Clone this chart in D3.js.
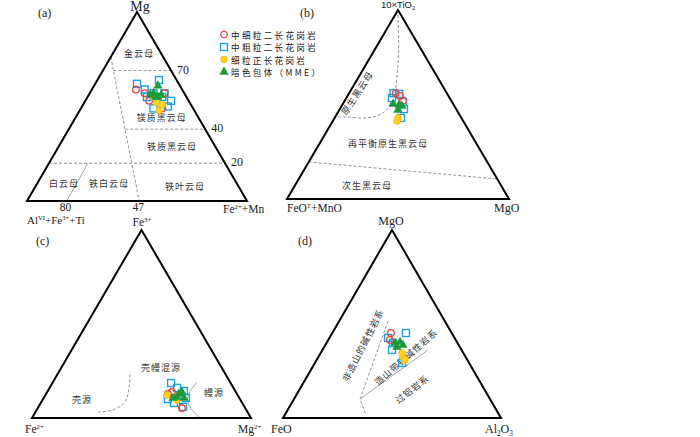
<!DOCTYPE html>
<html lang="en">
<head>
<meta charset="utf-8">
<script src="https://d3js.org/d3.v7.min.js"></script>
<style>
  body { margin: 0; background: #fff; }
  .cn { font-family: "Noto Sans CJK SC", sans-serif; fill: #333; font-size: 9px; letter-spacing: 1px; }
  .lat { font-family: "Liberation Serif", serif; fill: #222; }
</style>
</head>
<body>
<svg width="700" height="437"></svg>
<script>
// ternary data: [top %, right %] (left = 100 - top - right)
// (a) Mg / Fe2++Mn / AlVI+Fe3++Ti
var aSquare = [[62,19],[64,28],[59,24],[55,27],[57,29],[57,34],[53,39],[50,39],[49,33],[55,34]];
var aCircle = [[59,20],[57,25],[57,34],[49,37],[53,29]];
var aYellow = [[48,36],[52,33],[55,30],[51,36]];
var aMME    = [[61,29],[55,31],[56,28],[56,33],[57,29],[55,32]];
// (b) 10xTiO2 / MgO / FeOT+MnO
var bSquare = [[56,20],[55.6,22.7],[53.4,20.6],[51.3,26.6],[47.6,28.9],[42.9,29.9]];
var bCircle = [[56,21],[52,26.3],[54.5,23.6]];
var bYellow = [[42.9,28.6],[41.3,28.9]];
var bMME    = [[50.3,22.6],[49.7,25.6],[49.2,27.2],[47.1,26.4]];
// (c) Fe3+ / Mg2+ / Fe2+
var cSquare = [[18.6,54.2],[16,58.2],[14.4,62.2],[10.1,57],[8,60.8],[5.9,66],[10.6,65]];
var cCircle = [[5.3,65.8],[12.8,55.7],[13.8,57]];
var cYellow = [[12.2,55.5],[9.6,61.4]];
var cMME    = [[10.6,59.1],[12.8,60.7],[10.6,64.1],[11.2,60.6],[13.8,61.6]];
// (d) MgO / Al2O3 / FeO
var dSquare = [[45.2,33.8],[42.6,26.9],[39.9,30.5],[36.2,31.9],[29.3,40]];
var dCircle = [[45.2,26.9],[41.5,28.3]];
var dYellow = [[32.4,38.8],[30.9,40.5],[34.6,37.3]];
var dMME    = [[39.9,31.4],[40.4,33.5],[38.8,35.6],[37.8,33.4]];

// boundaries
var aLines = [
  {pts: [[76.2,0],[0,51]]},
  {pts: [[69,4.8],[69,31]]},
  {pts: [[38,25.6],[38,62]]},
  {pts: [[20,0],[20,80]]},
  {pts: [[0,18],[20,17.7]], solid: true}
];
var bLines = [
  {pts: [[100,0],[97.4,1.3],[78.8,10.9],[64.6,17.2],[52.4,21.6],[45.5,20.5],[42.9,14.6],[43.4,5.3],[43.4,0]], curve: true},
  {pts: [[19.6,0],[10.6,89.4]]}
];
var cLines = [
  {pts: [[3.2,28.5],[4.3,34.8],[8.5,38.2],[16,36.3],[24.5,32.5]], curve: true},
  {pts: [[19.1,65.8],[11.7,65.4],[5.85,69.2],[0,76.7]], curve: true, solid: true}
];
var dLines = [
  {pts: [[51.6,22.4],[10.1,30.3],[1.6,37.3]]},
  {pts: [[10.1,30.3],[36.2,48.4]], solid: true}
];

var legendNames = ["中细粒二长花岗岩", "中粗粒二长花岗岩", "细粒正长花岗岩", "暗色包体（MME）"];

var RED = "#e8453c", BLUE = "#1ba1e2", YEL = "#ffd21f", GRN = "#1c9a3c";

var svg = d3.select("svg");

function panel(o) {
  var g = svg.append("g");
  var w = o.R - o.L;
  var ty = d3.scaleLinear().domain([0, 100]).range([o.base, o.top]);
  var rx = d3.scaleLinear().domain([0, 100]).range([0, w]);
  function px(p) { return [o.L + rx(p[1]) + rx(p[0]) / 2, ty(p[0])]; }

  o.lines.forEach(function (ln) {
    var gen = d3.line().curve(ln.curve ? d3.curveCatmullRom : d3.curveLinear);
    g.append("path")
      .attr("d", gen(ln.pts.map(px)))
      .attr("fill", "none")
      .attr("stroke", ln.solid ? "#999" : "#888")
      .attr("stroke-width", 0.9)
      .attr("stroke-dasharray", ln.solid ? null : "3,2");
  });

  g.append("path")
    .attr("d", d3.line()([[100,0],[0,100],[0,0]].map(px)) + "Z")
    .attr("fill", "none").attr("stroke", "#000").attr("stroke-width", 2)
    .attr("stroke-linejoin", "miter");

  o.labels.forEach(function (l) {
    var p = px(l.p);
    g.append("text").attr("class", "cn")
      .attr("text-anchor", "middle")
      .attr("dominant-baseline", "central")
      .attr("transform", "translate(" + p[0] + "," + p[1] + ") rotate(" + (l.rot || 0) + ")")
      .text(l.t);
  });

  var d = o.data;
  g.selectAll(".sq").data(d.square).enter().append("rect")
    .attr("x", function (p) { return px(p)[0] - 3.5; })
    .attr("y", function (p) { return px(p)[1] - 3.5; })
    .attr("width", 7).attr("height", 7)
    .attr("fill", "none").attr("stroke", BLUE).attr("stroke-width", 1.4);
  g.selectAll(".ci").data(d.circle).enter().append("circle")
    .attr("cx", function (p) { return px(p)[0]; })
    .attr("cy", function (p) { return px(p)[1]; })
    .attr("r", 3.3)
    .attr("fill", "none").attr("stroke", RED).attr("stroke-width", 1.3);
  g.selectAll(".ye").data(d.yellow).enter().append("circle")
    .attr("cx", function (p) { return px(p)[0]; })
    .attr("cy", function (p) { return px(p)[1]; })
    .attr("r", 3.4)
    .attr("fill", YEL).attr("stroke", "#f2b600").attr("stroke-width", 0.6);
  g.selectAll(".tr").data(d.mme).enter().append("path")
    .attr("transform", function (p) { var q = px(p); return "translate(" + q[0] + "," + q[1] + ")"; })
    .attr("d", d3.symbol().type(d3.symbolTriangle).size(38))
    .attr("fill", GRN);
  return px;
}

// (a)
var pa = panel({L: 27, R: 247, base: 201, top: 12,
  lines: aLines,
  data: {square: aSquare, circle: aCircle, yellow: aYellow, mme: aMME},
  labels: [
    {t: "金云母", p: [78.3, 11.8]}, {t: "镁质黑云母", p: [44.4, 39.1]},
    {t: "铁质黑云母", p: [29.1, 51.4]}, {t: "白云母", p: [9.5, 12.1]},
    {t: "铁白云母", p: [9.5, 32.5]}, {t: "铁叶云母", p: [7.9, 67.9]}
  ]});
// (b)
var pb = panel({L: 287, R: 509, base: 199, top: 10,
  lines: bLines,
  data: {square: bSquare, circle: bCircle, yellow: bYellow, mme: bMME},
  labels: [
    {t: "原生黑云母", p: [56.1, 3.5], rot: -57},
    {t: "再平衡原生黑云母", p: [29.6, 30.7]},
    {t: "次生黑云母", p: [7.4, 32.3]}
  ]});
// (c)
var pc = panel({L: 32, R: 251, base: 418, top: 230,
  lines: cLines,
  data: {square: cSquare, circle: cCircle, yellow: cYellow, mme: cMME},
  labels: [
    {t: "壳幔混源", p: [26.6, 45.6]}, {t: "壳源", p: [10.1, 17.8]},
    {t: "幔源", p: [13.3, 76.5]}
  ]});
// (d)
var pd = panel({L: 283, R: 501, base: 418, top: 230,
  lines: dLines,
  data: {square: dSquare, circle: dCircle, yellow: dYellow, mme: dMME},
  labels: [
    {t: "非造山的碱性岩系", p: [38.8, 17.3], rot: -63},
    {t: "造山带钙碱性岩系", p: [32.4, 40.2], rot: -41},
    {t: "过铝岩系", p: [15.4, 51.5], rot: -38}
  ]});

// axis / vertex text: parts = [text, "sup"|"sub"|undefined]
function rich(x, y, parts, size, anchor, family) {
  var t = svg.append("text").attr("x", x).attr("y", y)
    .attr("font-size", size).attr("text-anchor", anchor || "start");
  if (family) t.attr("font-family", family).attr("fill", "#222");
  else t.attr("class", "lat");
  var shift = 0;
  parts.forEach(function (p) {
    var target = p[1] === "sup" ? -size * 0.38 : p[1] === "sub" ? size * 0.25 : 0;
    var s = t.append("tspan").attr("dy", target - shift).text(p[0]);
    if (p[1]) s.attr("font-size", size * 0.6);
    shift = target;
  });
  return t;
}
function txt(x, y, s, size, anchor) { return rich(x, y, [[s]], size, anchor); }

txt(38, 17, "(a)", 12);
txt(140, 11, "Mg", 14, "middle");
[[70, 69], [40, 38], [20, 20]].forEach(function (d) {
  var p = pa([d[1], 100 - d[1]]);
  txt(p[0] + 6, p[1] + 3, d[0], 12);
});
[["80", [0, 18]], ["47", [0, 51]]].forEach(function (d) {
  var p = pa(d[1]);
  txt(p[0] - 1, p[1] + 9.5, d[0], 11.5, "middle");
});
rich(27, 224, [["Al"], ["VI", "sup"], ["+Fe"], ["3+", "sup"], ["+Ti"]], 11);
rich(223, 213, [["Fe"], ["2+", "sup"], ["+Mn"]], 11.5);

// (b)
txt(300, 17, "(b)", 12);
rich(398, 8, [["10×TiO"], ["2", "sub"]], 9.5, "middle", "Liberation Sans, Arial, sans-serif");
rich(287, 212, [["FeO"], ["T", "sup"], ["+MnO"]], 11.5);
txt(494, 212, "MgO", 12);

// (c)
txt(36, 245, "(c)", 12);
rich(142, 226, [["Fe"], ["3+", "sup"]], 11.5, "middle");
rich(25, 433, [["Fe"], ["2+", "sup"]], 11.5);
rich(238, 433, [["Mg"], ["2+", "sup"]], 11.5);

// (d)
txt(298, 245, "(d)", 12);
txt(391, 225, "MgO", 12, "middle");
txt(271, 433, "FeO", 12);
rich(485, 433, [["Al"], ["2", "sub"], ["O"], ["3", "sub"]], 12);

// legend
var lg = svg.append("g").attr("transform", "translate(224,34.5)");
legendNames.forEach(function (n, i) {
  var row = lg.append("g").attr("transform", "translate(0," + (i * 12.5) + ")");
  if (i === 0) row.append("circle").attr("r", 3.3).attr("fill", "none").attr("stroke", RED).attr("stroke-width", 1.3);
  if (i === 1) row.append("rect").attr("x", -3.5).attr("y", -3.5).attr("width", 7).attr("height", 7).attr("fill", "none").attr("stroke", BLUE).attr("stroke-width", 1.4);
  if (i === 2) row.append("circle").attr("r", 3.4).attr("fill", YEL).attr("stroke", "#f2b600").attr("stroke-width", 0.6);
  if (i === 3) row.append("path").attr("d", d3.symbol().type(d3.symbolTriangle).size(38)).attr("fill", GRN);
  row.append("text").attr("x", 7).attr("y", 0).attr("dominant-baseline", "central")
    .attr("font-family", "Noto Sans CJK SC, sans-serif").attr("font-size", 8.6)
    .attr("letter-spacing", 2.3).attr("fill", "#222").text(n);
});
</script>
</body>
</html>
